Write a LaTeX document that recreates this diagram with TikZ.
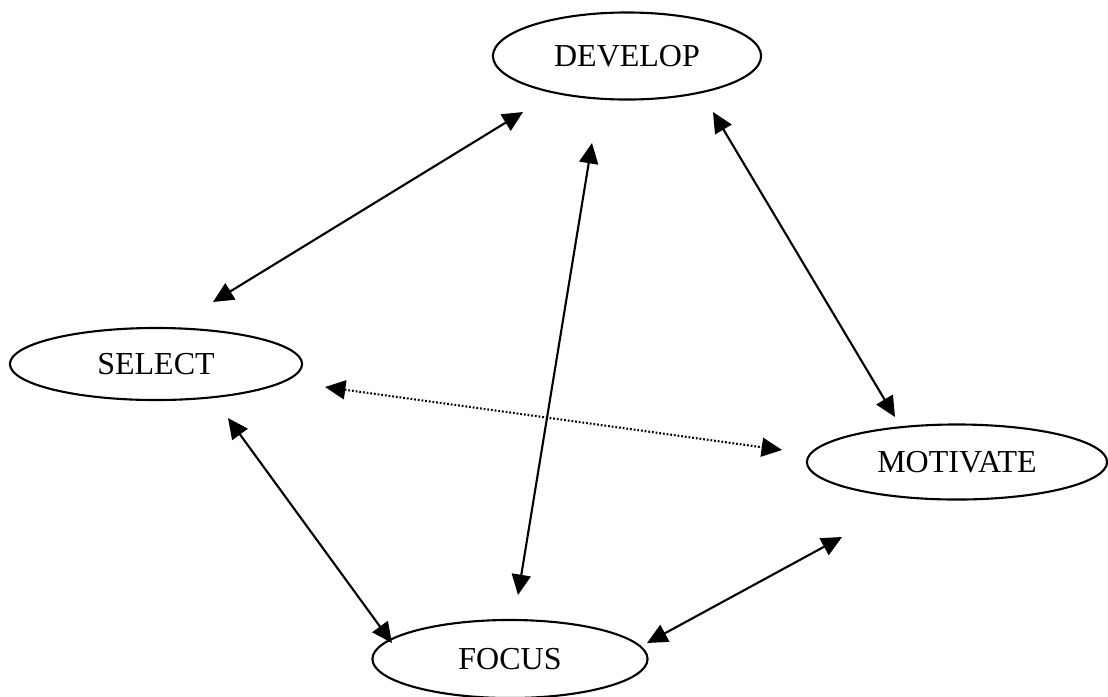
\documentclass[tikz,border=0pt]{standalone}
\usepackage{fontspec}
\setmainfont{Liberation Serif}
\usetikzlibrary{arrows.meta,shapes.geometric}
\begin{document}
\begin{tikzpicture}[x=0.01cm,y=-0.01cm,
  oval/.style={draw=black,ellipse,line width=0.6pt,inner sep=0pt,
    font=\fontsize{9.1pt}{10pt}\selectfont},
  link/.style={line width=0.6pt,{Triangle[length=5.8pt,width=5.4pt]}-{Triangle[length=5.8pt,width=5.4pt]}},
  dotlink/.style={link,dash pattern=on 0.5pt off 0.55pt}]
\useasboundingbox (0,0) rectangle (1108,696);
\node[oval,minimum width=2.68cm,minimum height=0.87cm] (develop) at (627,56) {DEVELOP};
\node[oval,minimum width=2.92cm,minimum height=0.72cm] (select) at (156,364) {SELECT};
\node[oval,minimum width=3.00cm,minimum height=0.75cm] (motivate) at (957,462) {MOTIVATE};
\node[oval,minimum width=2.75cm,minimum height=0.78cm] (focus) at (510,659) {FOCUS};
% arrow tips
\coordinate (d-s) at (523,112);
\coordinate (s-d) at (213,302);
\coordinate (d-f) at (592,143);
\coordinate (f-d) at (518,595);
\coordinate (d-m) at (713,112);
\coordinate (m-d) at (895,417);
\coordinate (s-m) at (325,387);
\coordinate (m-s) at (782,450);
\coordinate (s-f) at (228,418);
\coordinate (f-s) at (392,643);
\coordinate (m-f) at (842,537);
\coordinate (f-m) at (647,643);
\draw[link] (d-s) -- (s-d);
\draw[link] (d-f) -- (f-d);
\draw[link] (d-m) -- (m-d);
\draw[dotlink] (s-m) -- (m-s);
\draw[link] (s-f) -- (f-s);
\draw[link] (m-f) -- (f-m);
\end{tikzpicture}
\end{document}
